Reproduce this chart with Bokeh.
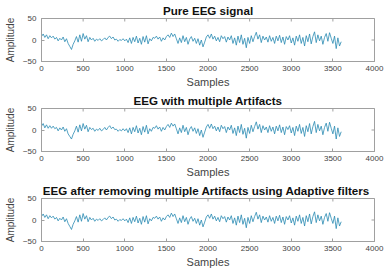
import math
from bokeh.plotting import figure
from bokeh.layouts import column
from bokeh.models import FixedTicker, ColumnDataSource
from bokeh.embed import file_html
from bokeh.resources import INLINE

# ---- data (every 20 samples) ----
samples = list(range(0, 3601, 20))

pure_eeg = [
    8, 14, 6, 12, 3, 10, 5, 9, 2, 6, -2, 4, 0, 7, -4, 3, -8, -15, -22, -10,
    -2, 8, -5, 12, -3, 15, 2, 10, -4, 6, 0, 4, -3, 2, -1, 3, -2, 1, 5, 0,
    6, 9, 3, 7, 0, 2, -3, 1, -1, 3, -2, 2, -6, 5, -8, 6, -4, 9, -7, 4,
    -10, 8, -5, 10, -9, 3, -2, 6, 4, 9, 2, 7, -3, 5, 0, 8, 12, 6, 16, 8,
    14, 3, -8, 5, -6, 10, -4, 6, -10, 2, 8, -3, 4, -8, 3, -12, 0, -16, -5, 7,
    12, 4, 14, 2, 9, -2, 6, -4, 10, 3, 8, -5, 7, 0, 10, -8, 5, -12, 9, -6,
    12, -10, 4, -18, 6, -8, 10, -4, 8, 18, 2, 12, -6, 9, 0, 7, -5, 10, -3, 6,
    -8, 9, -2, 11, -6, 7, -10, 8, 0, 10, -7, 5, -12, 9, -3, 12, -8, 6, -14, 10,
    -4, 14, -9, 8, 19, -6, 12, -2, 9, -10, 6, 15, -3, 17, 4, -8, 9, -20, 5, -14, -4,
]

artifact_eeg = [
    9, 15, 5, 12, 4, 10, 4, 9, 3, 6, -2, 5, 0, 7, -3, 3, -9, -15, -21, -10,
    -2, 9, -5, 12, -2, 15, 2, 11, -4, 6, 1, 4, -3, 2, -1, 4, -2, 1, 6, 0,
    6, 10, 3, 7, 1, 2, -3, 1, -2, 3, -2, 3, -6, 5, -9, 6, -4, 10, -7, 4,
    -11, 8, -5, 11, -9, 3, -3, 6, 4, 10, 2, 7, -3, 6, 0, 8, 13, 6, 16, 9,
    14, 3, -9, 5, -6, 11, -4, 6, -11, 2, 8, -3, 5, -8, 3, -13, 0, -17, -5, 7,
    13, 4, 14, 3, 9, -2, 7, -4, 11, 3, 8, -6, 7, 0, 11, -8, 5, -13, 9, -6,
    13, -10, 4, -19, 6, -8, 11, -4, 8, 19, 2, 13, -6, 10, 0, 7, -6, 10, -3, 7,
    -9, 9, -2, 12, -6, 7, -11, 8, 1, 10, -7, 6, -13, 9, -3, 13, -8, 6, -15, 10,
    -4, 15, -9, 8, 20, -6, 13, -2, 9, -11, 6, 16, -3, 18, 4, -9, 9, -21, 5, -15, -4,
]

filtered_eeg = [
    8, 14, 6, 12, 3, 10, 5, 9, 2, 6, -2, 4, 0, 7, -4, 3, -8, -15, -22, -10,
    -2, 8, -5, 12, -3, 15, 2, 10, -4, 6, 0, 4, -3, 2, -1, 3, -2, 1, 5, 0,
    6, 9, 3, 7, 0, 2, -3, 1, -1, 3, -2, 2, -6, 5, -8, 6, -4, 9, -7, 4,
    -10, 8, -5, 10, -9, 3, -2, 6, 4, 9, 2, 7, -3, 5, 0, 8, 12, 6, 16, 8,
    14, 3, -8, 5, -6, 10, -4, 6, -10, 2, 8, -3, 4, -8, 3, -12, 0, -16, -5, 7,
    12, 4, 14, 2, 9, -2, 6, -4, 10, 3, 8, -5, 7, 0, 10, -8, 5, -12, 9, -6,
    12, -10, 4, -18, 6, -8, 10, -4, 8, 18, 2, 12, -6, 9, 0, 7, -5, 10, -3, 6,
    -8, 9, -2, 11, -6, 7, -10, 8, 0, 10, -7, 5, -12, 9, -3, 12, -8, 6, -14, 10,
    -4, 14, -9, 8, 19, -6, 12, -2, 9, -10, 6, 15, -3, 17, 4, -8, 9, -20, 5, -14, -4,
]

titles = [
    "Pure EEG signal",
    "EEG with multiple Artifacts",
    "EEG after removing  multiple Artifacts using Adaptive filters",
]
x_ticks = [0, 500, 1000, 1500, 2000, 2500, 3000, 3500, 4000]
y_ticks = [-50, 0, 50]
x_label = "Samples"
y_label = "Amplitude"

LINE = "#2a8ab2"
FRAME = "#a0a0a0"
TXT = "#444444"
FONT = "Liberation Sans"


def make_panel(title, values, height, top, bottom):
    x0, x1 = x_ticks[0], x_ticks[-1]
    y0, y1 = y_ticks[0], y_ticks[-1]
    p = figure(width=386, height=height, output_backend="svg",
               toolbar_location=None, x_range=(x0, x1), y_range=(y0, y1),
               min_border_left=41, min_border_right=12,
               min_border_top=top, min_border_bottom=bottom)
    src = ColumnDataSource(dict(x=samples, y=values))
    p.line("x", "y", source=src, line_color=LINE, line_width=0.8)

    # MATLAB-style inside ticks on the top and right edges of the box
    p.scatter(x=x_ticks, y=[y1] * len(x_ticks), marker="dash", size=6,
              angle=math.pi / 2, line_color=FRAME, line_width=1)
    p.scatter(x=[x1] * len(y_ticks), y=y_ticks, marker="dash", size=6,
              line_color=FRAME, line_width=1)

    p.title.text = title
    p.title.align = "center"
    p.title.text_font = FONT
    p.title.text_font_size = "11.6px"
    p.title.text_font_style = "bold"
    p.title.text_color = "#111111"
    p.title.standoff = 3
    p.title.offset = 0

    p.grid.visible = False
    p.outline_line_color = FRAME
    p.outline_line_width = 1

    for ax in (p.xaxis[0], p.yaxis[0]):
        ax.axis_line_color = FRAME
        ax.major_tick_line_color = FRAME
        ax.major_tick_in = 3
        ax.major_tick_out = 0
        ax.minor_tick_line_color = None
        ax.major_label_text_font = FONT
        ax.major_label_text_font_size = "8px"
        ax.major_label_text_color = TXT
        ax.axis_label_text_font = FONT
        ax.axis_label_text_font_style = "normal"
        ax.axis_label_text_color = TXT

    p.xaxis[0].ticker = FixedTicker(ticks=x_ticks)
    p.yaxis[0].ticker = FixedTicker(ticks=y_ticks)
    p.xaxis[0].axis_label = x_label
    p.yaxis[0].axis_label = y_label
    p.xaxis[0].axis_label_text_font_size = "11px"
    p.yaxis[0].axis_label_text_font_size = "10px"
    p.xaxis[0].major_label_standoff = 4
    p.xaxis[0].axis_label_standoff = 2
    p.yaxis[0].major_label_standoff = 5
    p.yaxis[0].axis_label_standoff = 4
    return p


p1 = make_panel(titles[0], pure_eeg, 90, 18, 29)
p2 = make_panel(titles[1], artifact_eeg, 90, 18, 29)
p3 = make_panel(titles[2], filtered_eeg, 90, 18, 29)

layout = column(p1, p2, p3, spacing=0)

open("out.html", "w").write(file_html(layout, INLINE))
